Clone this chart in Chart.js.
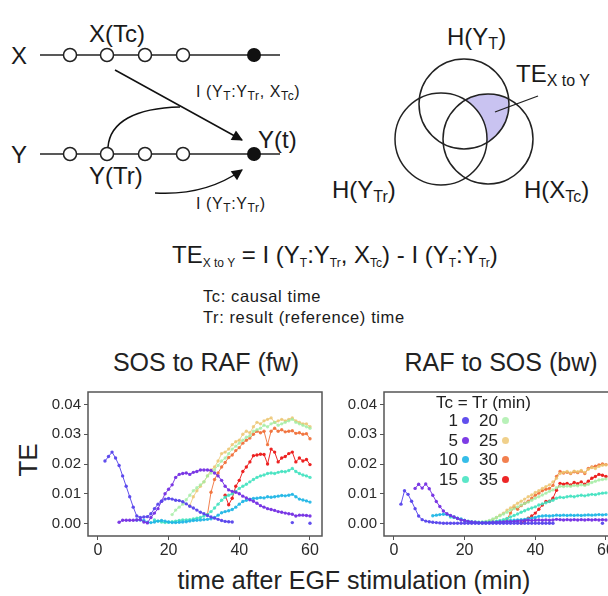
<!DOCTYPE html>
<html lang="en">
<head>
<meta charset="UTF-8">
<title>Transfer entropy SOS / RAF</title>
<script src="https://cdn.jsdelivr.net/npm/chart.js"></script>
<style>
    body {
        margin: 0;
        width: 608px;
        height: 596px;
        overflow: hidden;
        position: relative;
        background: white;
        font-family: 'Liberation Sans', Arial, sans-serif;
        color: #222;
    }
    .abs { position: absolute; white-space: nowrap; }
    canvas { position: absolute; }
    .title { font-size: 25px; transform: translateX(-50%); }
    .leg { font-size: 17px; color: #222; }
    .num { text-align: right; width: 30px; }
    .dot { width: 7px; height: 7px; border-radius: 50%; }
</style>
</head>
<body>

<svg class="abs" width="608" height="340" style="left:0;top:0" font-family="'Liberation Sans', Arial, sans-serif" fill="#1a1a1a">
    <defs>
        <marker id="ah" viewBox="0 0 10 10" refX="9" refY="5" markerUnits="userSpaceOnUse" markerWidth="13" markerHeight="11" orient="auto">
            <path d="M0,0 L10,5 L0,10 z" fill="#111"/>
        </marker>
        <clipPath id="clipTop"><circle cx="464" cy="104" r="45"/></clipPath>
        <mask id="maskLeft">
            <rect x="300" y="0" width="308" height="240" fill="white"/>
            <circle cx="441" cy="139" r="46" fill="black"/>
        </mask>
    </defs>

    <!-- time lines -->
    <text x="11" y="64" font-size="24">X</text>
    <text x="11" y="163" font-size="24">Y</text>
    <line x1="40" y1="55" x2="280" y2="55" stroke="#222" stroke-width="1.5"/>
    <line x1="40" y1="154" x2="280" y2="154" stroke="#222" stroke-width="1.5"/>
    <g fill="white" stroke="#222" stroke-width="1.5">
        <circle cx="70" cy="55" r="6.5"/><circle cx="107" cy="55" r="6.5"/>
        <circle cx="145" cy="55" r="6.5"/><circle cx="183" cy="55" r="6.5"/>
        <circle cx="70" cy="154" r="6.5"/><circle cx="107" cy="154" r="6.5"/>
        <circle cx="145" cy="154" r="6.5"/><circle cx="183" cy="154" r="6.5"/>
    </g>
    <circle cx="254" cy="55" r="7" fill="#111"/>
    <circle cx="254" cy="154" r="7" fill="#111"/>
    <text x="89" y="42" font-size="24">X(Tc)</text>
    <text x="89" y="184" font-size="24">Y(Tr)</text>
    <text x="258" y="148" font-size="24">Y(t)</text>

    <line x1="115" y1="70" x2="242" y2="140" stroke="#111" stroke-width="1.5" marker-end="url(#ah)"/>
    <path d="M108,147 C110,122 135,108 180,107" fill="none" stroke="#111" stroke-width="1.5"/>
    <path d="M155,193 Q205,196 242,170" fill="none" stroke="#111" stroke-width="1.5" marker-end="url(#ah)"/>

    <text x="196" y="97" font-size="16" letter-spacing="0.6">I (Y<tspan font-size="12" dy="3">T</tspan><tspan dy="-3">:Y</tspan><tspan font-size="12" dy="3">Tr</tspan><tspan dy="-3">, X</tspan><tspan font-size="12" dy="3">Tc</tspan><tspan dy="-3">)</tspan></text>
    <text x="196" y="209" font-size="16" letter-spacing="0.6">I (Y<tspan font-size="12" dy="3">T</tspan><tspan dy="-3">:Y</tspan><tspan font-size="12" dy="3">Tr</tspan><tspan dy="-3">)</tspan></text>

    <!-- Venn diagram -->
    <g clip-path="url(#clipTop)">
        <circle cx="488" cy="139" r="45" fill="#c9c3f1" mask="url(#maskLeft)"/>
    </g>
    <g fill="none" stroke="#222" stroke-width="1.5">
        <circle cx="464" cy="104" r="45"/>
        <circle cx="441" cy="139" r="46"/>
        <circle cx="488" cy="139" r="45"/>
    </g>
    <line x1="495" y1="112" x2="538" y2="96" stroke="#222" stroke-width="1.3"/>
    <text x="447" y="45" font-size="24">H(Y<tspan font-size="16" dy="4">T</tspan><tspan dy="-4">)</tspan></text>
    <text x="516" y="82" font-size="24">TE<tspan font-size="16" dy="4">X to Y</tspan></text>
    <text x="332" y="198" font-size="24">H(Y<tspan font-size="16" dy="4">Tr</tspan><tspan dy="-4">)</tspan></text>
    <text x="524" y="198" font-size="24">H(X<tspan font-size="16" dy="4">Tc</tspan><tspan dy="-4">)</tspan></text>

    <!-- formula -->
    <text x="172" y="263" font-size="24">TE<tspan font-size="12" dy="4">X to Y</tspan><tspan dy="-4"> = I (Y</tspan><tspan font-size="12" dy="4">T</tspan><tspan dy="-4">:Y</tspan><tspan font-size="12" dy="4">Tr</tspan><tspan dy="-4">, X</tspan><tspan font-size="12" dy="4">Tc</tspan><tspan dy="-4">) - I (Y</tspan><tspan font-size="12" dy="4">T</tspan><tspan dy="-4">:Y</tspan><tspan font-size="12" dy="4">Tr</tspan><tspan dy="-4">)</tspan></text>
    <text x="203" y="302" font-size="16.5" letter-spacing="0.6">Tc: causal time</text>
    <text x="203" y="323" font-size="16.5" letter-spacing="0.6">Tr: result (reference) time</text>
</svg>

<div class="abs title" style="left:206px;top:348px">SOS to RAF (fw)</div>
<div class="abs title" style="left:501px;top:348px">RAF to SOS (bw)</div>
<div class="abs" style="left:12px;top:460px;font-size:26px;transform:translateY(-50%) rotate(-90deg);transform-origin:center">TE</div>
<div class="abs" style="left:354px;top:566px;font-size:25px;transform:translateX(-50%)">time after EGF stimulation (min)</div>

<canvas id="fwChart" width="330" height="180" style="left:0;top:380px"></canvas>
<canvas id="bwChart" width="330" height="180" style="left:296px;top:380px"></canvas>
<div id="legend"></div>

<script>
    // lag settings Tc = Tr (min)
    const lags = [1, 5, 10, 15, 20, 25, 30, 35];
    const xTicks = [0, 20, 40, 60];
    const yTicks = [0, 0.01, 0.02, 0.03, 0.04];

    // SOS to RAF (fw), one value per minute, first value at t = lag + 1
    const fwTc1 = [0.021, 0.0225, 0.024, 0.022, 0.0195, 0.016, 0.0125, 0.009, 0.0055, 0.0025,
        0.002, 0.0022, 0.0023, 0.0033, 0.005, 0.0065, 0.0075, 0.0082, 0.0084, 0.0082,
        0.0078, 0.0077, 0.0073, 0.0066, 0.0058, 0.0052, 0.0045, 0.0038, 0.0033, 0.0027,
        0.0022, 0.0018, 0.0014, 0.001, 0.0007, 0.0006, 0.0005,
        null, null, null, null, null, null, null, null, null, null, null, null, null, null, null, null,
        0.0003, null, null, null, null, 0.0001];
    const fwTc5 = [0.0004, 0.0011, 0.0011, 0.0011, 0.0011, 0.0012, 0.0013, 0.0005, 0.0002, 0.002,
        0.0035, 0.005, 0.0075, 0.01, 0.0115, 0.013, 0.0155, 0.0165, 0.0168, 0.017,
        0.0165, 0.0172, 0.0175, 0.018, 0.018, 0.018, 0.0178, 0.017, 0.016, 0.0145,
        0.0125, 0.0113, 0.0108, 0.0105, 0.01, 0.0092, 0.0086, 0.008, 0.0075, 0.0068,
        0.006, 0.0055, 0.005, 0.0047, 0.0044, 0.004, 0.0038, 0.0035, 0.0033, 0.0031,
        0.0025, 0.0028, 0.0028, 0.0027, 0.0025];
    const fwTc10 = [0.0012, 0.0012, 0.001, 0.0004, 0.0003, 0.0005, 0.0008, 0.001, 0.0008, 0.0005,
        0.0003, 0.0003, 0.0004, 0.0005, 0.0006, 0.0008, 0.001, 0.0011, 0.0012, 0.0013,
        0.0014, 0.0016, 0.002, 0.0028, 0.0036, 0.004, 0.0043, 0.0047, 0.0055, 0.0065,
        0.0074, 0.0078, 0.0082, 0.0084, 0.0085, 0.0087, 0.0086, 0.009, 0.0088, 0.009,
        0.0092, 0.0094, 0.0093, 0.0095, 0.0098, 0.009, 0.0082, 0.0079, 0.0076, 0.0072];
    const fwTc15 = [0.0012, 0.0008, 0.0005, 0.0003, 0.0004, 0.0006, 0.0008, 0.001, 0.0012, 0.0012,
        0.0013, 0.0015, 0.0018, 0.002, 0.0025, 0.003, 0.004, 0.0052, 0.0065, 0.0078,
        0.0088, 0.0095, 0.01, 0.0108, 0.0118, 0.0125, 0.0132, 0.014, 0.0148, 0.0155,
        0.016, 0.0163, 0.0168, 0.017, 0.0168, 0.0172, 0.0175, 0.0174, 0.0178, 0.0185,
        0.0175, 0.0168, 0.0163, 0.016, 0.0155];
    const fwTc20 = [0.003, 0.0045, 0.0055, 0.0065, 0.008, 0.0095, 0.011, 0.012, 0.013, 0.014,
        0.016, 0.017, 0.018, 0.0195, 0.021, 0.022, 0.0235, 0.025, 0.026, 0.027,
        0.028, 0.029, 0.0295, 0.031, 0.0315, 0.032, 0.033, 0.0325, 0.0335, 0.034,
        0.033, 0.0335, 0.034, 0.0345, 0.035, 0.034, 0.0335, 0.033, 0.0325, 0.032];
    const fwTc25 = [0.006, 0.009, 0.011, 0.0125, 0.014, 0.016, 0.018, 0.019, 0.021, 0.0235,
        0.024, 0.025, 0.0265, 0.0275, 0.028, 0.03, 0.031, 0.0305, 0.0325, 0.034,
        0.0335, 0.0345, 0.035, 0.0355, 0.034, 0.0345, 0.035, 0.0345, 0.035, 0.0355,
        0.0345, 0.034, 0.0335, 0.0335, 0.0325];
    const fwTc30 = [0.003, 0.0105, 0.0148, 0.017, 0.019, 0.0205, 0.0222, 0.023, 0.0245, 0.0255,
        0.027, 0.028, 0.0287, 0.03, 0.031, 0.0305, 0.031, 0.0265, 0.031, 0.032,
        0.031, 0.0315, 0.0308, 0.031, 0.0312, 0.0303, 0.0305, 0.03, 0.0302, 0.0285];
    const fwTc35 = [0.0095, 0.0063, 0.0085, 0.0125, 0.0145, 0.0175, 0.019, 0.0207, 0.0228, 0.023,
        0.0233, 0.0232, 0.02, 0.025, 0.024, 0.0207, 0.022, 0.0225, 0.0235, 0.024,
        0.0207, 0.022, 0.021, 0.0215, 0.0198];

    // RAF to SOS (bw)
    const bwTc1 = [0.0065, 0.011, 0.0098, 0.0075, 0.005, 0.0025, 0.0013, 0.0008, 0.0006, 0.0004,
        0.0003, 0.0002,
        0.0001, 0.0001, 0.0001, 0.0001, 0.0001, 0.0001, 0.0001, 0.0001, 0.0001, 0.0001,
        0.0001, 0.0001, 0.0001, 0.0001, 0.0001, 0.0001, 0.0001, 0.0001, 0.0001, 0.0001,
        0.0001, 0.0001, 0.0001, 0.0001, 0.0001, 0.0001, 0.0001, 0.0001, 0.0001, 0.0001,
        0.0001, 0.0001,
        null, null, null, null, null, null, null, null, null, null, null, null, null,
        0.0001, null];
    const bwTc5 = [0.0118, 0.0132, 0.0119, 0.0133, 0.0117, 0.0095, 0.0074, 0.0057, 0.0042, 0.0033,
        0.0027, 0.0022, 0.0017, 0.0012, 0.001, 0.0007, 0.0005, 0.0004, 0.0003, 0.0003,
        0.0003, 0.0003, 0.0004, 0.0004, 0.0005, 0.0005, 0.0006, 0.0006, 0.0007, 0.0008,
        0.0009, 0.001, 0.0011, 0.001, 0.0011, 0.0012, 0.0011, 0.0012, 0.0011, 0.0012,
        0.0014, 0.0013, 0.0012, 0.0013, 0.0012, 0.0013, 0.0012, 0.0013, 0.0012, 0.0013,
        0.0012, 0.0013, 0.0012, 0.0013, 0.0012];
    const bwTc10 = [0.0026, 0.0028, 0.003, 0.0031, 0.003, 0.0026, 0.0022, 0.0018, 0.0015, 0.001,
        0.0006, 0.0004, 0.0003, 0.0002, 0.0002, 0.0002, 0.0003, 0.0003, 0.0004, 0.0005,
        0.0006, 0.0008, 0.001, 0.0011, 0.0012, 0.0013, 0.0014, 0.0016, 0.0018, 0.002,
        0.0024, 0.0025, 0.0026, 0.0025, 0.0026, 0.0028, 0.0027, 0.0028, 0.0027, 0.0028,
        0.0027, 0.0028, 0.0027, 0.0028, 0.0029, 0.0028, 0.0029, 0.003, 0.0029, 0.003];
    const bwTc15 = [0.0022, 0.002, 0.0017, 0.0013, 0.001, 0.0008, 0.0006, 0.0005, 0.0004, 0.0004,
        0.0004, 0.0005, 0.0006, 0.0008, 0.001, 0.0013, 0.0017, 0.0022, 0.0027, 0.0032,
        0.0038, 0.0043, 0.0048, 0.0052, 0.0056, 0.0062, 0.0066, 0.007, 0.0074, 0.0078,
        0.0085, 0.0088, 0.0087, 0.009, 0.0092, 0.009, 0.0093, 0.0095, 0.0093, 0.0096,
        0.0098, 0.0097, 0.01, 0.0102, 0.0103];
    const bwTc20 = [0.0003, 0.0003, 0.0003, 0.0004, 0.0005, 0.0007, 0.001, 0.0015, 0.002, 0.0026,
        0.0032, 0.0038, 0.0045, 0.005, 0.0056, 0.0062, 0.0067, 0.0072, 0.0078, 0.0085,
        0.009, 0.0096, 0.0102, 0.0108, 0.0113, 0.012, 0.0125, 0.0124, 0.0126, 0.0125,
        0.0128, 0.0127, 0.013, 0.0128, 0.0132, 0.0138, 0.0142, 0.0146, 0.0148, 0.015];
    const bwTc25 = [0.0004, 0.0008, 0.0013, 0.002, 0.0028, 0.0035, 0.0045, 0.0052, 0.006, 0.0068,
        0.0075, 0.0082, 0.009, 0.0096, 0.0104, 0.011, 0.0118, 0.0124, 0.013, 0.014,
        0.0152, 0.0168, 0.0172, 0.0175, 0.017, 0.0176, 0.0174, 0.0178, 0.0172, 0.0182,
        0.0188, 0.0185, 0.0192, 0.0196, 0.0197];
    const bwTc30 = [0.0005, 0.0015, 0.0035, 0.0055, 0.0048, 0.006, 0.0068, 0.0075, 0.0085, 0.0095,
        0.0102, 0.011, 0.0115, 0.0118, 0.0128, 0.0158, 0.0175, 0.017, 0.0172, 0.0168,
        0.0174, 0.0171, 0.0176, 0.0168, 0.0185, 0.019, 0.0193, 0.0197, 0.02, 0.0198];
    const bwTc35 = [0.0002, 0.0008, 0.0018, 0.0025, 0.0035, 0.0048, 0.0062, 0.0074, 0.0075, 0.0085,
        0.0112, 0.0135, 0.0132, 0.0135, 0.013, 0.0138, 0.0134, 0.014, 0.0132, 0.0142,
        0.0152, 0.0158, 0.0165, 0.0162, 0.0158];

    const fwSeries = [fwTc1, fwTc5, fwTc10, fwTc15, fwTc20, fwTc25, fwTc30, fwTc35];
    const bwSeries = [bwTc1, bwTc5, bwTc10, bwTc15, bwTc20, bwTc25, bwTc30, bwTc35];
    const lagColors = ['rgba(88,70,236,0.95)', 'rgba(118,50,228,0.95)', 'rgba(31,182,230,0.9)', 'rgba(62,226,190,0.85)',
        'rgba(160,236,160,0.75)', 'rgba(236,196,110,0.8)', 'rgba(240,106,48,0.85)', 'rgba(236,26,26,0.95)'];

    const font = "'Liberation Sans', Arial, sans-serif";

    // full frame round the plot, like R's box()
    const boxPlugin = {
        id: 'box',
        afterDraw(chart) {
            const a = chart.chartArea, ctx = chart.ctx;
            ctx.save();
            ctx.strokeStyle = '#555';
            ctx.lineWidth = 1.5;
            ctx.strokeRect(a.left, a.top, a.right - a.left, a.bottom - a.top);
            ctx.restore();
        }
    };

    function makeChart(id, series) {
        const datasets = series.map((vals, i) => ({
            label: String(lags[i]),
            data: vals.map((v, k) => ({ x: lags[i] + 1 + k, y: v })),
            borderColor: lagColors[i],
            backgroundColor: lagColors[i],
            borderWidth: 1,
            pointRadius: 1.7,
            pointBorderWidth: 0,
            spanGaps: false
        }));
        return new Chart(document.getElementById(id), {
            type: 'line',
            data: { datasets: datasets },
            options: {
                responsive: false,
                animation: false,
                layout: { padding: { left: 0, right: 8, top: 5, bottom: 0 } },
                plugins: { legend: { display: false }, tooltip: { enabled: false } },
                scales: {
                    x: {
                        type: 'linear',
                        min: -2.8,
                        max: 63.4,
                        afterBuildTicks: s => { s.ticks = xTicks.map(v => ({ value: v })); },
                        afterFit: s => { s.height = 24; },
                        grid: { drawOnChartArea: false, drawTicks: true, tickLength: 4, color: '#555' },
                        border: { display: false },
                        ticks: { color: '#2a2a2a', padding: 1, maxRotation: 0, font: { family: font, size: 16 } }
                    },
                    y: {
                        min: -0.0042,
                        max: 0.0442,
                        afterBuildTicks: s => { s.ticks = yTicks.map(v => ({ value: v })); },
                        afterFit: s => { s.width = 88; },
                        grid: { drawOnChartArea: false, drawTicks: true, tickLength: 4, color: '#555' },
                        border: { display: false },
                        ticks: { color: '#2a2a2a', padding: 3, font: { family: font, size: 15 },
                            callback: v => v.toFixed(2) }
                    }
                }
            },
            plugins: [boxPlugin]
        });
    }

    makeChart('fwChart', fwSeries);
    makeChart('bwChart', bwSeries);

    // legend of the bw panel: two columns, number then dot
    const legend = document.getElementById('legend');
    legend.innerHTML = '<div class="abs leg" style="left:436px;top:393px">Tc = Tr (min)</div>';
    lags.forEach((lag, i) => {
        const col = Math.floor(i / 4), row = i % 4;
        const x = 428 + col * 40, y = 411 + row * 19.5;
        legend.innerHTML += '<div class="abs leg num" style="left:' + x + 'px;top:' + y + 'px">' + lag + '</div>' +
            '<div class="abs dot" style="left:' + (x + 34) + 'px;top:' + (y + 6) + 'px;background:' + lagColors[i] + '"></div>';
    });
</script>
</body>
</html>
